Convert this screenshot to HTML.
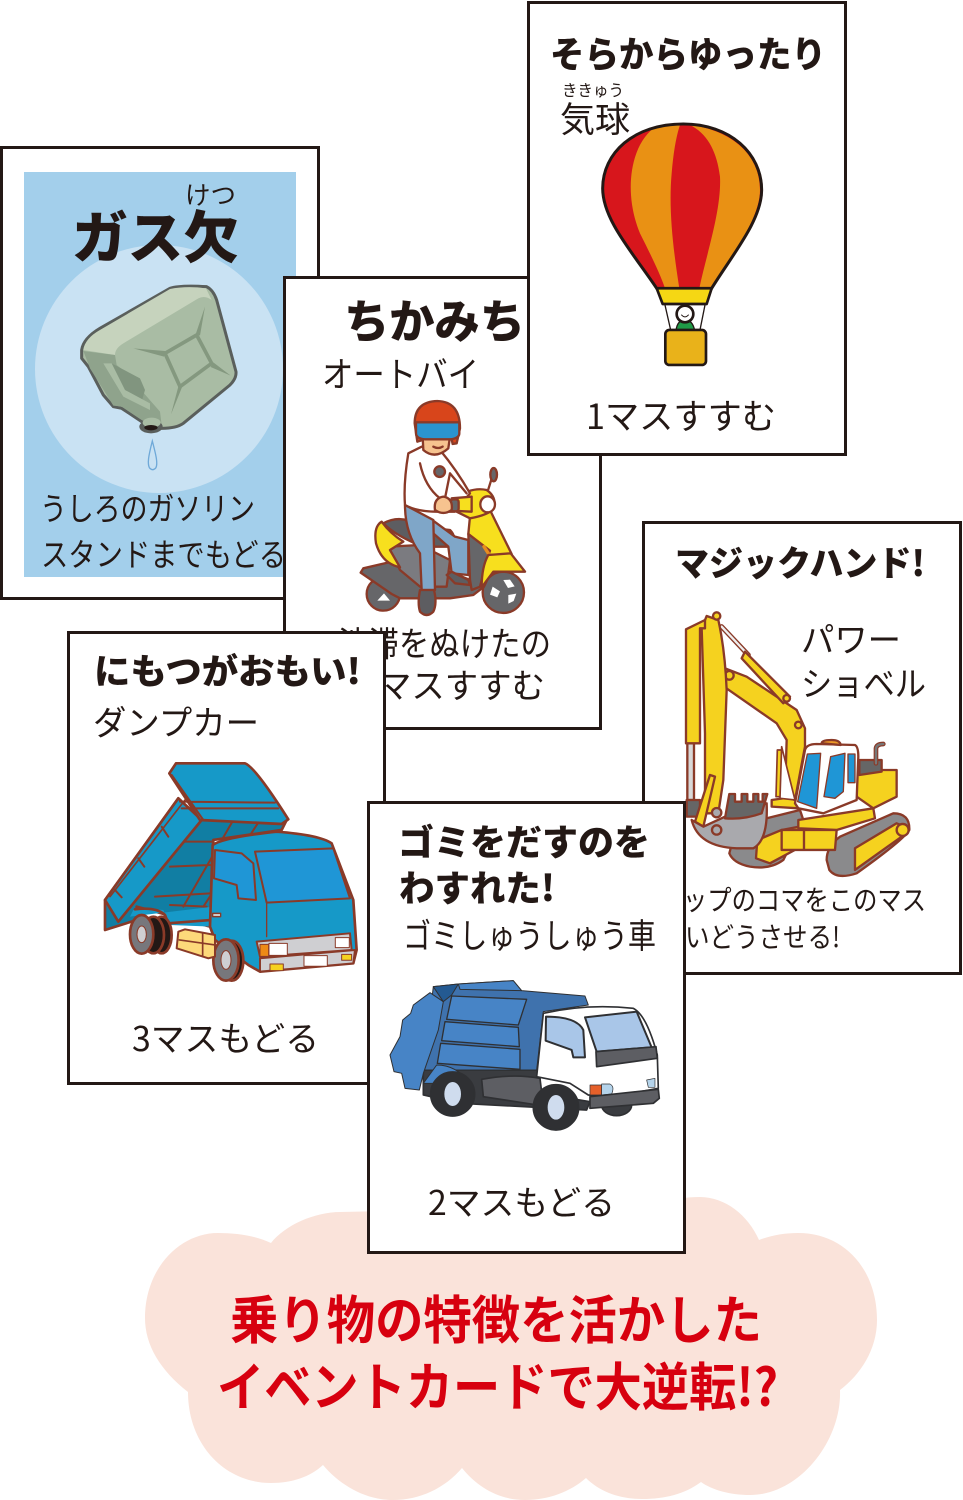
<!DOCTYPE html>
<html lang="ja"><head><meta charset="utf-8"><style>
html,body{margin:0;padding:0;background:#fff}
svg{display:block}
text{font-family:"Liberation Sans","Noto Sans CJK JP",sans-serif;fill:#231815}
.b{font-weight:700;font-family:"Noto Sans CJK JP",sans-serif}
.r{font-weight:400;font-family:"Noto Sans CJK JP",sans-serif}
.card{fill:#fff;stroke:#231815;stroke-width:3}
</style></head><body>
<svg width="963" height="1500" viewBox="0 0 963 1500" xmlns="http://www.w3.org/2000/svg">
<!-- cloud -->
<path fill="#fae3da" d="M188 1392 C160 1370 145 1345 145 1318 C145 1268 180 1233 218 1233 C238 1233 256 1236 271 1243 C285 1225 315 1212 340 1212 L660 1205 C672 1199 686 1197 700 1197 C725 1197 748 1215 759 1240 C772 1235 785 1233 798 1233 C845 1233 877 1270 877 1320 C877 1350 860 1375 840 1390 C842 1440 800 1495 750 1495 C730 1495 712 1490 701 1482 C685 1494 665 1499 642 1499 C620 1499 600 1492 586 1478 C570 1492 548 1500 525 1500 C500 1500 478 1488 462 1468 C445 1488 420 1500 393 1500 C365 1500 340 1485 323 1465 C310 1477 292 1483 271 1483 C225 1483 188 1445 188 1392z"/>

<!-- gas card -->
<rect class="card" x="1.5" y="147.5" width="317" height="451"/>
<rect x="24" y="172" width="272" height="405" fill="#a3cfeb"/>
<circle cx="159" cy="369" r="124" fill="#c9e2f3"/>
<text class="b" x="72" y="258" font-size="56" textLength="167" lengthAdjust="spacingAndGlyphs" style="font-weight:900">ガス欠</text>
<text class="r" x="185" y="204" font-size="25" textLength="51" lengthAdjust="spacingAndGlyphs">けつ</text>
<g transform="translate(70 275) scale(.3333)">
<path d="M35 225 Q40 190 90 160 L300 40 Q330 30 410 35 Q430 45 440 75 L498 290 Q500 310 480 330 L340 445 Q320 460 275 460 L265 460 L215 440 L170 410 L155 400 L130 395 L100 360 L55 275 L35 250z" fill="#a9bca4" stroke="#5a5f5c" stroke-width="9" stroke-linejoin="round"/>
<path d="M40 225 L135 240 Q135 220 160 205 L385 70 Q405 60 425 75 L408 40 Q350 32 300 42 L90 165 Q45 190 40 225z" fill="#c6d3bd"/>
<path d="M40 228 L135 240 L140 270 L165 290 L270 410 L275 450 L215 435 L155 395 L130 392 L60 280z" fill="#8fa38c"/>
<path d="M125 265 L210 310 L225 345 L215 380 L165 350z" fill="#81957f"/>
<path d="M100 265 L125 265 L165 345 L240 385 L240 405 L160 365z" fill="#a9bca4"/>
<path d="M285 235 L380 180 L425 265 L330 335z" fill="#a9bca4" stroke="#84987f" stroke-width="11" stroke-linejoin="round"/>
<path d="M285 228 L190 220 L282 245z M378 175 L405 95 L390 182z M430 262 L482 302 L422 276z M325 335 L303 418 L338 332z" fill="#84987f"/>
<ellipse cx="243" cy="455" rx="35" ry="20" fill="#5a5f5c"/><ellipse cx="245" cy="443" rx="27" ry="15" fill="#a9bca4"/><ellipse cx="243" cy="458" rx="20" ry="8" fill="#231815"/>
<path d="M247 498 C235 545 232 565 238 578 Q248 590 258 578 C264 565 258 540 247 498z" fill="none" stroke="#6fa9d8" stroke-width="4"/>
</g>
<text class="r" x="40" y="520" font-size="32" textLength="215" lengthAdjust="spacingAndGlyphs">うしろのガソリン</text>
<text class="r" x="41" y="566" font-size="32" textLength="245" lengthAdjust="spacingAndGlyphs">スタンドまでもどる</text>

<!-- chikamichi card -->
<rect class="card" x="284.5" y="277.5" width="316" height="451"/>
<text class="b" x="344" y="338" font-size="46" textLength="181" lengthAdjust="spacingAndGlyphs" style="font-weight:900">ちかみち</text>
<text class="r" x="322" y="387" font-size="35" textLength="157" lengthAdjust="spacingAndGlyphs">オートバイ</text>
<text class="r" x="338" y="656" font-size="34" textLength="213" lengthAdjust="spacingAndGlyphs">渋滞をぬけたの</text>
<text class="r" x="378" y="698" font-size="34" textLength="167" lengthAdjust="spacingAndGlyphs">マスすすむ</text>

<!-- motorcycle -->
<g transform="translate(340 390) scale(.3333)" stroke="#8a3a28" stroke-width="7" stroke-linejoin="round" stroke-linecap="round">
<circle cx="130" cy="612" r="50" fill="#666669"/><path d="M112 632l20-22 18 22z" fill="#fff" stroke="none"/>
<circle cx="490" cy="607" r="62" fill="#666669"/>
<path d="M490 570l14 24 20-5-14-20zM458 590l22 14-8 18-22-8zM505 615l24-4-8 22-16 8z" fill="#fff" stroke="none"/>
<path d="M62 548 L70 535 L220 500 L390 570 L450 470 L470 510 L432 590 L400 615 L330 625 L180 625 L155 612z" fill="#666669"/>
<path d="M145 470 L240 465 L330 510 L320 590 L240 590 L180 540z" fill="#7b7b80"/>
<path d="M130 400 Q185 370 240 410 L330 420 Q350 440 340 470 L250 470 Q170 440 130 400z" fill="#5d5d61"/>
<path d="M125 395 Q100 410 108 460 Q125 520 180 532 L150 480 L190 455 Q150 430 125 395z" fill="#f7df1e"/>
<path d="M385 432 L390 380 L450 360 L515 492 L445 495z" fill="#f7df1e"/>
<path d="M385 432 L450 482 L445 495 L420 590 L395 600 L390 570z" fill="#666669"/>
<path d="M432 470 L445 490" stroke="#e88c1e" stroke-width="10"/>
<path d="M445 495 L512 490 L555 545 L460 545 L425 592 Q425 530 445 495z" fill="#f7df1e"/>
<path d="M345 325 Q395 290 440 300 Q470 320 462 355 Q445 375 390 385 L350 365z" fill="#f7df1e"/>
<ellipse cx="443" cy="343" rx="22" ry="24" fill="#fff"/>
<path d="M445 298l14-45" stroke-width="7"/><ellipse cx="461" cy="254" rx="10" ry="20" fill="#666669"/>
<path d="M270 385 L345 440 L385 450 L385 555 L335 550 L325 470 L280 430z" fill="#7fa6c8"/>
<path d="M335 545 L385 570 L390 585 L345 580 L320 555z" fill="#5d5d61"/>
<path d="M195 345 L280 390 L285 600 L245 600 L240 490 Q195 430 195 345z" fill="#7fa6c8"/>
<path d="M240 600 Q232 640 240 665 Q260 685 280 665 Q292 640 282 600z" fill="#5d5d61"/>
<path d="M245 170 L205 190 Q190 280 195 345 Q230 365 290 365 L345 365 L390 310 Q350 240 300 180z" fill="#fff"/>
<path d="M240 220 Q255 290 300 325M330 250l-14 70M330 250l50 60" fill="none"/>
<circle cx="299" cy="245" r="16" fill="#666669"/>
<path d="M248 140 L250 180 Q285 210 325 175 L330 140z" fill="#f6c38f"/>
<path d="M280 170q15 8 28 0" fill="none"/>
<path d="M335 325 L395 320 L395 365 L335 362z" fill="#f7df1e"/><rect x="332" y="328" width="24" height="36" rx="8" fill="#666669"/>
<path d="M285 360 Q280 325 310 320 Q340 325 335 360 Q310 378 285 360z" fill="#f6c38f"/>
<path d="M224 100 Q224 35 292 33 Q360 35 360 115 L350 160 L338 162 L330 125 L255 125 L248 150 L232 155z" fill="#d8451b"/>
<path d="M228 97 H358 V130 Q358 145 330 148 H255 Q228 145 228 130z" fill="#2b94cf"/>
</g>

<!-- balloon card -->
<rect class="card" x="528.5" y="2.5" width="317" height="452"/>
<text class="b" x="550" y="67" font-size="36" textLength="276" lengthAdjust="spacingAndGlyphs" style="font-weight:900">そらからゆったり</text>
<text class="r" x="562" y="96" font-size="16" textLength="62" lengthAdjust="spacingAndGlyphs">ききゅう</text>
<text class="r" x="560" y="132" font-size="35" textLength="70" lengthAdjust="spacingAndGlyphs">気球</text>
<g transform="translate(590 110) scale(.3333)">
<path d="M280 42 C130 42 38 130 38 235 C38 330 130 430 200 535 L365 535 C430 430 515 330 515 240 C515 130 420 42 280 42z" fill="#d7161c"/>
<path d="M190 55 C120 110 100 250 150 370 C180 430 210 490 225 535 L268 535 C250 420 235 300 245 190 C250 130 258 80 270 45 C240 45 215 48 190 55z" fill="#e99114"/>
<path d="M300 45 C350 70 380 120 390 200 C395 300 350 430 328 535 L365 535 C420 440 510 330 510 240 C510 130 420 60 300 45z" fill="#e99114"/>
<path d="M280 42 C130 42 38 130 38 235 C38 330 130 430 200 535 L365 535 C430 430 515 330 515 240 C515 130 420 42 280 42z" fill="none" stroke="#231815" stroke-width="9"/>
<path d="M225 585L242 660M345 585L330 660" stroke="#231815" stroke-width="4"/>
<path d="M258 662 Q262 630 285 630 Q308 630 314 662z" fill="#1f9a46" stroke="#231815" stroke-width="4"/>
<circle cx="285" cy="612" r="25" fill="#fff" stroke="#231815" stroke-width="8"/>
<path d="M274 614q11 13 22 0" fill="none" stroke="#231815" stroke-width="3"/>
<path d="M200 535 L365 535 L350 582 L218 582z" fill="#f5d714" stroke="#231815" stroke-width="8" stroke-linejoin="round"/>
<rect x="226" y="660" width="122" height="105" rx="12" fill="#e9b21a" stroke="#231815" stroke-width="8"/>
</g>
<text class="r" x="586" y="429" font-size="35" textLength="190" lengthAdjust="spacingAndGlyphs">1マスすすむ</text>

<!-- excavator card -->
<rect class="card" x="643.5" y="522.5" width="317" height="451"/>
<text class="b" x="675" y="576" font-size="35" textLength="250" lengthAdjust="spacingAndGlyphs" style="font-weight:900">マジックハンド!</text>
<text class="r" x="801" y="652" font-size="34" textLength="100" lengthAdjust="spacingAndGlyphs">パワー</text>
<text class="r" x="801" y="696" font-size="34" textLength="125" lengthAdjust="spacingAndGlyphs">ショベル</text>
<text class="r" x="683" y="910" font-size="28" textLength="243" lengthAdjust="spacingAndGlyphs">ップのコマをこのマス</text>
<text class="r" x="685" y="947" font-size="28" textLength="155" lengthAdjust="spacingAndGlyphs">いどうさせる!</text>
<g transform="translate(670 600) scale(.3333)" stroke="#8a3a28" stroke-width="7" stroke-linejoin="round" stroke-linecap="round">
<path d="M178 760 Q190 700 270 660 L390 630 L400 660 L340 780 Q300 810 240 800 Q190 790 178 760z" fill="#8a8a8c"/>
<path d="M258 775 L262 720 L335 690 L440 670 L430 720 L300 790z" fill="#f5d21f"/>
<path d="M470 780 Q470 740 510 710 L670 640 Q720 640 718 690 Q700 720 560 820 Q500 840 478 810z" fill="#8a8a8c"/>
<path d="M555 745 L680 670 Q710 680 695 710 L555 810z" fill="#f5d21f"/>
<circle cx="698" cy="690" r="18" fill="#f5d21f"/>
<path d="M335 690 L500 690 L495 750 L335 750zM402 690V750" fill="#f5d21f"/>
<path d="M385 660 L610 625 L615 655 L500 690 L385 685z" fill="#f5d21f"/>
<path d="M560 510 L680 510 L680 590 L610 625 L560 590z" fill="#f5d21f"/>
<path d="M568 480 L635 480 L635 515 L568 525z" fill="#666"/>
<path d="M618 490 V445 Q620 432 640 432" fill="none" stroke="#8a3a28" stroke-width="14"/><path d="M618 490 V445 Q620 432 640 432" fill="none" stroke="#777" stroke-width="7"/>
<path d="M305 620 L305 600 L375 590 L385 625z" fill="#f5d21f"/>
<path d="M322 450 L335 450 L338 590 L318 590z" fill="#f5d21f" stroke-width="5"/>
<path d="M378 380 V440 H392 V380z" fill="#d8d8d8" stroke-width="5"/>
<path d="M165 205 L230 230 L380 330 L405 385 L405 440 L375 600 L345 590 L350 420 L320 370 L165 262 Q148 235 165 205z" fill="#f5d21f"/>
<path d="M335 440 L375 600 L330 595z" fill="#fff" stroke-width="5"/>
<path d="M155 80 L235 165" stroke-width="15"/><path d="M155 80 L235 165" stroke="#eee" stroke-width="7"/>
<path d="M225 155 L360 290 L340 310 L215 175z" fill="#f5d21f"/>
<circle cx="350" cy="295" r="10" fill="#f5d21f"/><circle cx="385" cy="375" r="10" fill="#f5d21f"/><circle cx="178" cy="226" r="13" fill="#f5d21f"/>
<path d="M52 430 H72 V600 H52z" fill="#d8d8d8"/>
<path d="M95 85 L110 48 L145 60 Q165 150 170 270 L160 540 L145 640 L105 640 L105 400z" fill="#f5d21f"/>
<path d="M48 88 L105 60 V85 H90 V430 H48z" fill="#f5d21f"/>
<path d="M50 600 H90 V650 H50z" fill="#666"/>
<circle cx="140" cy="48" r="11" fill="#f5d21f"/>
<path d="M75 665 L120 525 L135 530 L100 680z" fill="#f5d21f"/>
<path d="M65 660 Q85 740 200 745 L250 745 Q295 720 290 610 L165 650 L100 680z" fill="#a9a9ad"/>
<path d="M165 655 L178 582 L195 582 V605 H215 V582 H232 V605 H250 V582 H265 V605 H278 V582 H292 L275 640 Q220 660 165 655z" fill="#666"/>
<circle cx="140" cy="638" r="14" fill="#a9a9ad"/><circle cx="140" cy="690" r="14" fill="#a9a9ad"/>
<path d="M375 610 L405 450 Q410 432 440 432 L555 435 Q565 440 565 470 L560 600 L460 640 L385 625z" fill="#fff"/>
<path d="M455 430 Q455 420 485 420 Q510 420 512 435z" fill="#ed9a28"/>
<path d="M383 605 L412 462 L452 460 L440 625z" fill="#1f96d6" stroke-width="4"/>
<path d="M462 590 L482 470 L525 460 L520 575 L495 595z" fill="#1f96d6" stroke-width="4"/>
<path d="M534 462 H555 V548 H534z" fill="#1f96d6" stroke-width="4"/>
</g>

<!-- dump card -->
<rect class="card" x="68.5" y="632.5" width="316" height="451"/>
<text class="b" x="94" y="684" font-size="35" textLength="267" lengthAdjust="spacingAndGlyphs" style="font-weight:900">にもつがおもい!</text>
<text class="r" x="93" y="735" font-size="34" textLength="166" lengthAdjust="spacingAndGlyphs">ダンプカー</text>
<text class="r" x="132" y="1051" font-size="34" textLength="187" lengthAdjust="spacingAndGlyphs">3マスもどる</text>
<g transform="translate(90 750) scale(.3333)" stroke="#8a3a28" stroke-width="8" stroke-linejoin="round" stroke-linecap="round">
<path d="M45 450 L265 145 L335 210 L590 210 L575 240 L370 270 L360 530 L140 470 L140 510 L45 540z" fill="#117ea3"/>
<path d="M265 275 H370M240 350 L360 345M195 440 L360 430M240 465 L350 470M280 470L430 210M340 470 L510 210" fill="none" stroke-width="6"/>
<path d="M45 450 L265 145 L335 210 L85 515z" fill="#1699c8"/>
<path d="M75 420l20 22M145 325l18 25M215 230l20 30" stroke-width="6" fill="none"/>
<path d="M60 440 L285 150" fill="none" stroke-width="5"/>
<path d="M238 70 L258 40 L465 40 Q495 50 595 208 L575 222 L330 210z" fill="#1699c8"/>
<path d="M245 75 L340 210M270 155 L555 158M275 175 L565 175" fill="none" stroke-width="6"/>
<path d="M130 480 Q170 475 220 480 L240 525 L365 530 L365 440 L370 470 L120 500z" fill="#1699c8" stroke="none"/>
<path d="M135 478 Q200 470 225 495 L235 520 L365 510" fill="none"/>
<ellipse cx="215" cy="555" rx="30" ry="55" fill="#231815"/><ellipse cx="190" cy="555" rx="32" ry="55" fill="#231815"/>
<ellipse cx="155" cy="553" rx="35" ry="58" fill="#77777c"/><ellipse cx="155" cy="553" rx="14" ry="25" fill="#cfcfd2" stroke-width="3"/>
<path d="M368 285 Q400 262 560 245 Q690 255 725 280 L790 450 L800 600 L790 640 L510 665 L475 645 L375 570 L360 530z" fill="#1699c8"/>
<path d="M495 305 L730 295 L780 445 L530 458z" fill="#1f96d6" stroke-width="6"/>
<path d="M375 300 L455 310 L490 340 L498 450 L445 445 L440 405 L372 385z" fill="#1f96d6" stroke-width="6"/>
<path d="M530 458 L530 560M368 490 H392V500H368z" fill="#ccc" stroke-width="4"/>
<path d="M500 575 L780 550 L785 600 L510 620z" fill="#cfcfd2" stroke-width="6"/>
<path d="M510 625 L795 600 L790 640 L510 665z" fill="#cfcfd2" stroke-width="6"/>
<rect x="510" y="583" width="26" height="36" fill="#ed8a16" stroke-width="3"/>
<rect x="537" y="580" width="55" height="36" fill="#fff" stroke-width="3"/><rect x="736" y="563" width="42" height="30" fill="#fff" stroke-width="3"/>
<rect x="642" y="617" width="70" height="32" fill="#fff" stroke-width="3"/>
<rect x="540" y="642" width="40" height="20" fill="#f5d21f" stroke-width="3"/><rect x="755" y="613" width="30" height="18" fill="#f5d21f" stroke-width="3"/>
<ellipse cx="425" cy="632" rx="35" ry="60" fill="#231815"/>
<ellipse cx="408" cy="630" rx="38" ry="62" fill="#77777c"/><ellipse cx="408" cy="630" rx="15" ry="28" fill="#cfcfd2" stroke-width="3"/>
<path d="M265 545 L285 538 L375 555 L375 620 L355 625 L260 595z" fill="#fdd97a" stroke-width="6"/>
<path d="M268 570 L375 585M338 550 V620" stroke-width="5" fill="none"/>
</g>

<!-- garbage card -->
<rect class="card" x="368.5" y="802.5" width="316" height="450"/>
<text class="b" x="398" y="855" font-size="36" textLength="252" lengthAdjust="spacingAndGlyphs" style="font-weight:900">ゴミをだすのを</text>
<text class="b" x="399" y="901" font-size="36" textLength="156" lengthAdjust="spacingAndGlyphs" style="font-weight:900">わすれた!</text>
<text class="r" x="403" y="948" font-size="34" textLength="253" lengthAdjust="spacingAndGlyphs">ゴミしゅうしゅう車</text>
<text class="r" x="428" y="1215" font-size="34" textLength="187" lengthAdjust="spacingAndGlyphs">2マスもどる</text>
<g transform="translate(380 970) scale(.3333)" stroke="#2f3033" stroke-width="5" stroke-linejoin="round">
<ellipse cx="710" cy="405" rx="45" ry="32" fill="#3a3c40"/>
<path d="M130 300 L300 300 L480 300 L480 370 L630 395 L620 420 L240 400 L130 375z" fill="#3a3c40"/>
<path d="M160 50 L235 42 L400 32 L425 62 L615 78 L625 105 L490 125 L470 300 L130 300z" fill="#3f72ad" stroke-width="3"/>
<path d="M30 255 L60 200 L68 150 L92 130 L100 105 L150 68 L190 95 L175 180 L130 310 L118 360 L75 355 L65 310 L42 305z" fill="#4784c6" stroke-width="3"/>
<path d="M215 78 L440 88 L415 165 L200 148z M195 155 L415 172 L418 230 L185 212z M182 220 L420 238 L420 298 L172 280z" fill="#4784c6" stroke-width="4"/>
<path d="M160 50 L235 42 L215 75 L190 95z" fill="#245a92" stroke-width="3"/>
<path d="M235 42 L400 32 L425 62 L240 58z" fill="#4784c6" stroke-width="3"/>
<path d="M170 285 Q230 285 270 340 L130 340z" fill="#4784c6" stroke-width="3"/>
<circle cx="218" cy="372" r="66" fill="#2f3033"/><ellipse cx="218" cy="372" rx="25" ry="36" fill="#cfdcee" stroke="none"/>
<path d="M305 328 Q400 310 480 325 L490 408 L310 380z" fill="#5d5e63"/>
<path d="M490 130 Q620 100 760 115 Q800 135 832 255 L835 355 L700 380 L625 375 L570 340 L470 320z" fill="#fff"/>
<path d="M498 140 Q590 140 610 180 L615 262 L580 262 L575 240 L497 212z" fill="#a9c6e8" stroke-width="6"/>
<path d="M615 142 L770 125 L815 232 L650 245z" fill="#a9c6e8" stroke-width="6"/>
<path d="M648 245 L828 230 L832 265 L650 290z" fill="#5d5e63"/>
<path d="M630 345 H665 V375 H630z" fill="#e5602a" stroke-width="2"/>
<path d="M665 342 H690 Q705 350 695 372 L665 375z M800 330 L825 325 V352 L805 352z" fill="#b4d3ea" stroke-width="2"/>
<path d="M630 380 L835 358 L838 385 L820 400 L630 415z" fill="#5d5e63"/>
<circle cx="528" cy="412" r="68" fill="#2f3033"/><ellipse cx="528" cy="412" rx="25" ry="37" fill="#cfdcee" stroke="none"/>
</g>

<!-- cloud caption -->
<text class="b" x="230" y="1339" font-size="52" textLength="532" lengthAdjust="spacingAndGlyphs" style="fill:#d7000f">乗り物の特徴を活かした</text>
<text class="b" x="217" y="1406" font-size="52" textLength="561" lengthAdjust="spacingAndGlyphs" style="fill:#d7000f">イベントカードで大逆転!?</text>
</svg>
</body></html>
